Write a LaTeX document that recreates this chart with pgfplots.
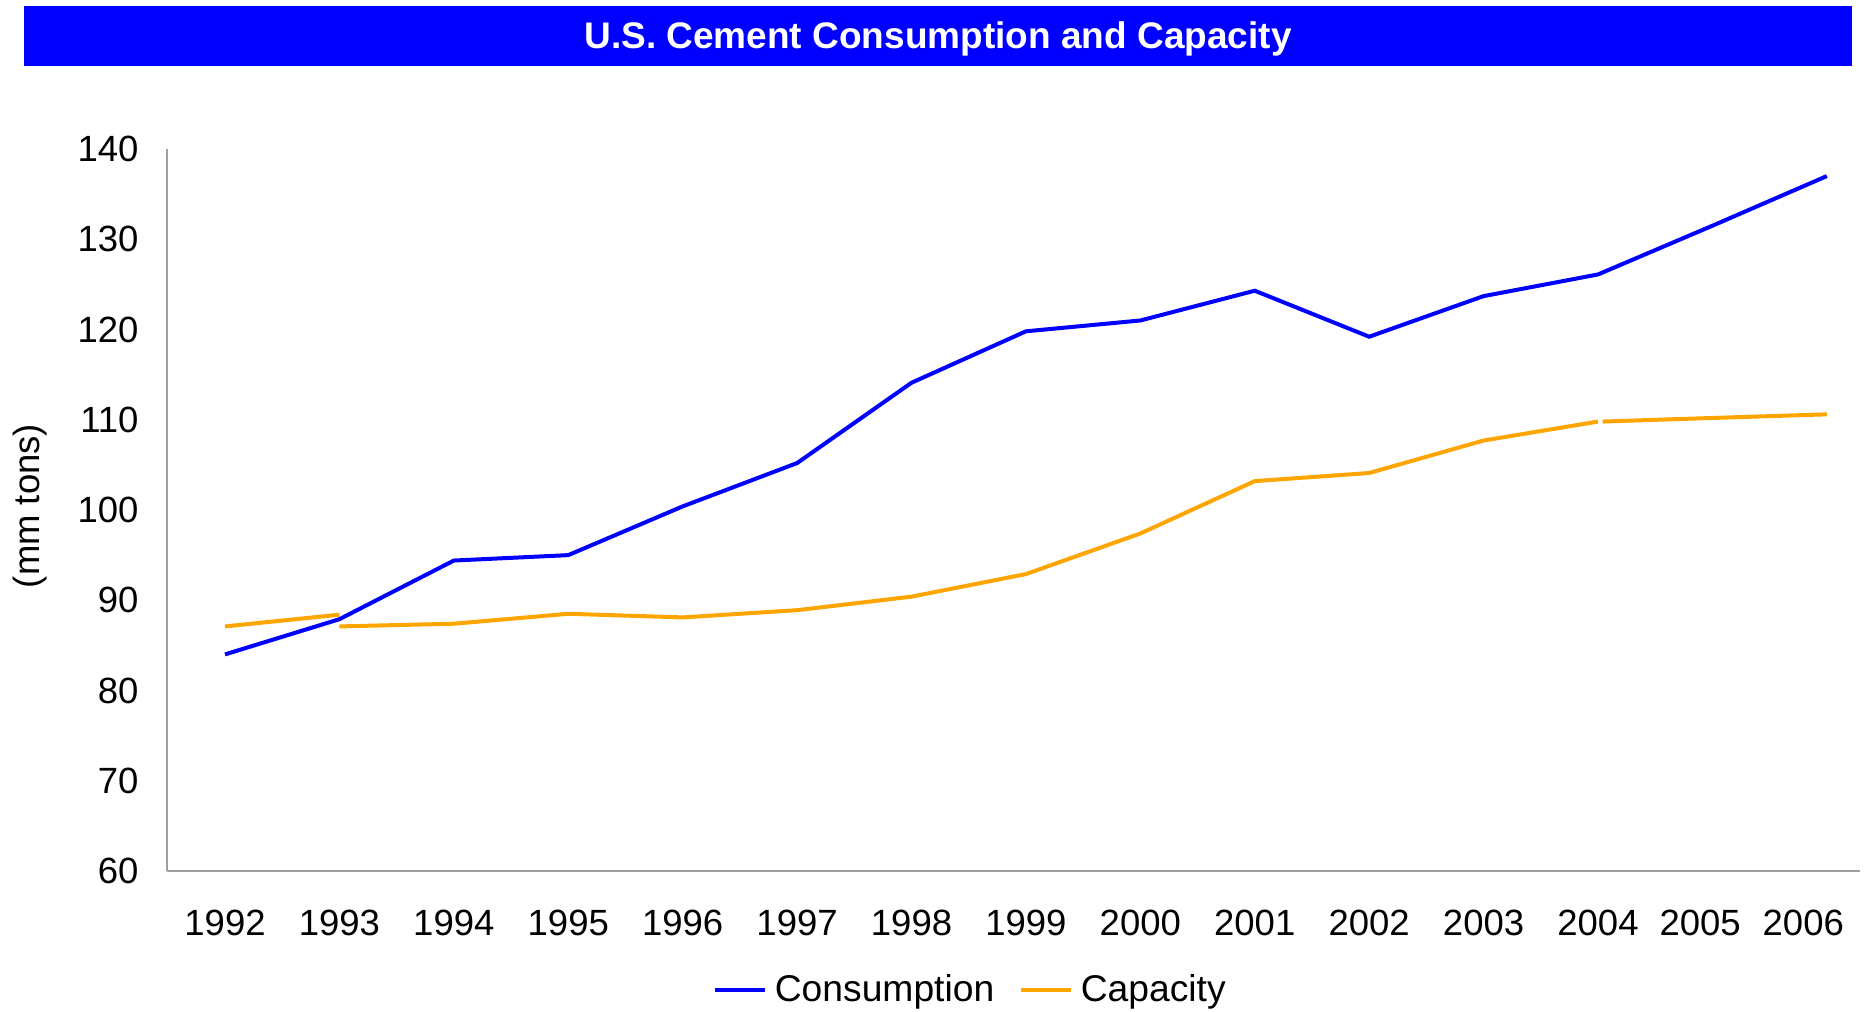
\documentclass[border=0pt]{standalone}
\usepackage{pgfplots}
\pgfplotsset{compat=1.18}
\usepackage{fontspec}
\setmainfont{Liberation Sans}
\definecolor{cblue}{RGB}{0,0,255}
\definecolor{corange}{RGB}{255,165,0}
\definecolor{axgray}{RGB}{160,160,160}
\begin{document}
\begin{tikzpicture}
\useasboundingbox (0,0) rectangle (746.4pt,404.4pt);
\fill[cblue] (9.6pt,378pt) rectangle (740.8pt,402pt);
\node[text=white, font=\fontsize{14.8}{17}\selectfont\bfseries] at (375.2pt,388.8pt) {U.S. Cement Consumption and Capacity};
\begin{axis}[
  at={(66.8pt,56pt)}, anchor=south west,
  scale only axis, width=677.2pt, height=288.8pt,
  xmin=1991.493, xmax=2006.29, ymin=60, ymax=140,
  axis x line=bottom, axis y line=left,
  axis line style={-, axgray, line width=0.9pt},
  xtick={1992,1993,1994,1995,1996,1997,1998,1999,2000,2001,2002,2003,2004,2004.893,2005.794},
  xticklabels={1992,1993,1994,1995,1996,1997,1998,1999,2000,2001,2002,2003,2004,2005,2006},
  ytick={60,70,...,140},
  major tick length=0pt,
  /pgf/number format/assume math mode=true,
  tick label style={font=\fontsize{14.6}{17}\selectfont, inner sep=0pt},
  x tick label style={anchor=center, yshift=-20.8pt},
  y tick label style={anchor=east, xshift=-11.2pt},
  legend style={at={(0.4755,-0.1648)}, anchor=center, draw=none, fill=none,
    legend columns=2, font=\fontsize{14.9}{17}\selectfont,
    /tikz/every odd column/.append style={column sep=1pt},
    /tikz/every even column/.append style={column sep=8pt}},
  legend cell align=left,
  legend image code/.code={\draw[#1] (0pt,0pt) -- (20pt,0pt);},
  every axis plot/.append style={line width=1.6pt, line cap=butt, line join=miter},
]
\addplot[cblue, mark=none] coordinates {
(1992,84.0) (1993,87.9) (1994,94.4) (1995,95.0) (1996,100.4) (1997,105.2) (1998,114.1) (1999,119.8) (2000,121.0) (2001,124.3) (2002,119.2) (2003,123.7) (2004,126.1) (2005,131.5) (2006,137.0)};
\addlegendentry{Consumption}
\addplot[corange, mark=none] coordinates {
(1993,87.1) (1994,87.4) (1995,88.5) (1996,88.1) (1997,88.9) (1998,90.4) (1999,92.9) (2000,97.4) (2001,103.2) (2002,104.1) (2003,107.7) (2004,109.8)};
\addlegendentry{Capacity}
\addplot[corange, mark=none, forget plot] coordinates {(1992,87.1) (1993,88.4)};
\addplot[corange, mark=none, forget plot] coordinates {(2004.04,109.8) (2005,110.2) (2006,110.6)};
\end{axis}
\node[rotate=90, font=\fontsize{14.6}{17}\selectfont] at (11.9pt,202pt) {(mm tons)};
\end{tikzpicture}
\end{document}
